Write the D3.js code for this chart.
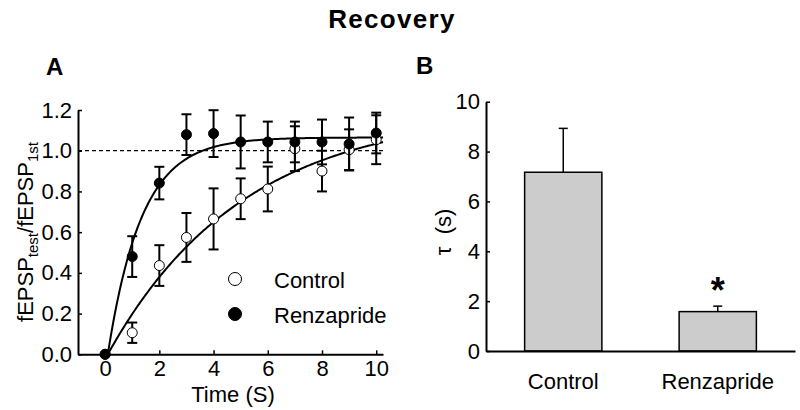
<!DOCTYPE html>
<html>
<head>
<meta charset="utf-8">
<script src="https://cdn.jsdelivr.net/npm/d3@7"></script>
<style>
  html, body { margin: 0; padding: 0; background: #fff; }
  svg { display: block; }
  text { font-family: "Liberation Sans", Arial, sans-serif; fill: #000; }
</style>
</head>
<body>
<svg id="chart" width="800" height="410"></svg>
<script>
// ---------- Data ----------
const times = [0, 1, 2, 3, 4, 5, 6, 7, 8, 9, 10];
const controlMean = [0, 0.106, 0.436, 0.574, 0.665, 0.764, 0.812, 1.01, 0.90, 1.005, 1.054];
const controlErr  = [0, 0.05, 0.10, 0.12, 0.15, 0.10, 0.11, 0.11, 0.10, 0.10, 0.12];
const renzMean    = [0, 0.48, 0.841, 1.079, 1.084, 1.043, 1.043, 1.043, 1.043, 1.033, 1.087];
const renzErr     = [0, 0.10, 0.08, 0.10, 0.115, 0.13, 0.10, 0.10, 0.11, 0.13, 0.10];
// exponential fit parameters: y = amp * (1 - exp(-(t - t0)/tau))
const fitNames = ["Control", "Renzapride"];
const fitAmp = [1.2, 1.065];
const fitTau = [5.0, 1.25];
const fitT0  = [0.1, 0.1];
const xTicksA = [0, 2, 4, 6, 8, 10];
const yTicksA = [0, 0.2, 0.4, 0.6, 0.8, 1.0, 1.2];
const refLevel = 1.0;

const barCategories = ["Control", "Renzapride"];
const tauMean = [7.17, 1.58];
const tauErr  = [1.76, 0.22];
const yTicksB = [0, 2, 4, 6, 8, 10];

// ---------- Setup ----------
const svg = d3.select("#chart");
const FS = 22;

svg.append("text").attr("x", 392).attr("y", 28).attr("text-anchor", "middle")
  .style("font-size", "26px").style("font-weight", "bold").style("letter-spacing", "1.3px")
  .text("Recovery");

// ---------- Panel A ----------
const xA = d3.scaleLinear().domain([-1, 10.25]).range([78, 383]);
const yA = d3.scaleLinear().domain([0, 1.2]).range([354.3, 110]);

svg.append("text").attr("x", 46).attr("y", 75).style("font-size", "24px").style("font-weight", "bold").text("A");

const gxA = svg.append("g").attr("transform", `translate(0,${yA(0)})`)
  .call(d3.axisBottom(xA).tickValues(xTicksA).tickSize(-4).tickSizeOuter(0).tickPadding(6).tickFormat(d3.format("d")));
const gyA = svg.append("g").attr("transform", `translate(${xA(-1)},0)`)
  .call(d3.axisLeft(yA).tickValues(yTicksA).tickSize(-4).tickSizeOuter(0).tickPadding(6).tickFormat(d3.format(".1f")));
[gxA, gyA].forEach(g => {
  g.selectAll("path.domain").attr("stroke", "#000").attr("stroke-width", 2);
  g.selectAll(".tick line").attr("stroke", "#000").attr("stroke-width", 1.5);
  g.selectAll(".tick text").style("font-size", FS + "px").attr("font-family", null);
});

// dashed reference line
svg.append("line")
  .attr("x1", xA(-1)).attr("x2", xA(10.25))
  .attr("y1", yA(refLevel)).attr("y2", yA(refLevel))
  .attr("stroke", "#000").attr("stroke-width", 1.3).attr("stroke-dasharray", "4,3");

// fit curves
const line = d3.line().x(d => xA(d[0])).y(d => yA(d[1]));
fitNames.forEach((n, i) => {
  const pts = d3.range(fitT0[i], 10.25 + 1e-9, 0.05).map(t => [t, fitAmp[i] * (1 - Math.exp(-(t - fitT0[i]) / fitTau[i]))]);
  svg.append("path").attr("d", line(pts)).attr("fill", "none").attr("stroke", "#000").attr("stroke-width", 2);
});

// error bars + points
function drawSeries(mean, err, filled) {
  const g = svg.append("g");
  times.forEach((t, i) => {
    if (err[i] > 0) {
      const x = xA(t), y1 = yA(mean[i] - err[i]), y2 = yA(mean[i] + err[i]);
      g.append("line").attr("x1", x).attr("x2", x).attr("y1", y1).attr("y2", y2).attr("stroke", "#000").attr("stroke-width", 2);
      [y1, y2].forEach(y => g.append("line").attr("x1", x - 5).attr("x2", x + 5).attr("y1", y).attr("y2", y).attr("stroke", "#000").attr("stroke-width", 2));
    }
  });
  times.forEach((t, i) => {
    g.append("circle").attr("cx", xA(t)).attr("cy", yA(mean[i])).attr("r", 5)
      .attr("fill", filled ? "#000" : "#fff").attr("stroke", "#000").attr("stroke-width", 1);
  });
}
drawSeries(controlMean, controlErr, false);
drawSeries(renzMean, renzErr, true);

// legend
svg.append("circle").attr("cx", 235).attr("cy", 279).attr("r", 6.5).attr("fill", "#fff").attr("stroke", "#000").attr("stroke-width", 1);
svg.append("circle").attr("cx", 235).attr("cy", 314).attr("r", 6.5).attr("fill", "#000").attr("stroke", "#000").attr("stroke-width", 1);
svg.append("text").attr("x", 274).attr("y", 288).style("font-size", FS + "px").text(fitNames[0]);
svg.append("text").attr("x", 274).attr("y", 322.5).style("font-size", FS + "px").text(fitNames[1]);

// axis labels
svg.append("text").attr("x", 233).attr("y", 402).attr("text-anchor", "middle").style("font-size", FS + "px").text("Time (S)");
const yl = svg.append("text").attr("transform", "translate(33,232) rotate(-90)").attr("text-anchor", "middle").style("font-size", FS + "px");
yl.append("tspan").text("fEPSP");
yl.append("tspan").attr("dy", 5).style("font-size", "15px").text("test");
yl.append("tspan").attr("dy", -5).text("/fEPSP");
yl.append("tspan").attr("dy", 5).style("font-size", "15px").text("1st");

// ---------- Panel B ----------
const xB = d3.scaleBand().domain(barCategories).range([486, 795]).paddingInner(0.5).paddingOuter(0.25);
const yB = d3.scaleLinear().domain([0, 10]).range([351, 101.7]);

svg.append("text").attr("x", 416).attr("y", 74).style("font-size", "24px").style("font-weight", "bold").text("B");

// bars
barCategories.forEach((c, i) => {
  const x = xB(c), w = xB.bandwidth();
  const cx = x + w / 2;
  svg.append("line").attr("x1", cx).attr("x2", cx).attr("y1", yB(tauMean[i])).attr("y2", yB(tauMean[i] + tauErr[i])).attr("stroke", "#000").attr("stroke-width", 1.5);
  svg.append("line").attr("x1", cx - 4.5).attr("x2", cx + 4.5).attr("y1", yB(tauMean[i] + tauErr[i])).attr("y2", yB(tauMean[i] + tauErr[i])).attr("stroke", "#000").attr("stroke-width", 1.5);
  svg.append("rect").attr("x", x).attr("y", yB(tauMean[i])).attr("width", w).attr("height", yB(0) - yB(tauMean[i]))
    .attr("fill", "#cccccc").attr("stroke", "#000").attr("stroke-width", 1.5);
});

const gxB = svg.append("g").attr("transform", `translate(0,${yB(0)})`)
  .call(d3.axisBottom(xB).tickSize(0).tickSizeOuter(0).tickPadding(22));
const gyB = svg.append("g").attr("transform", `translate(486,0)`)
  .call(d3.axisLeft(yB).tickValues(yTicksB).tickSize(-4).tickSizeOuter(0).tickPadding(6).tickFormat(d3.format("d")));
[gxB, gyB].forEach(g => {
  g.selectAll("path.domain").attr("stroke", "#000").attr("stroke-width", 2);
  g.selectAll(".tick line").attr("stroke", "#000").attr("stroke-width", 1.5);
  g.selectAll(".tick text").style("font-size", FS + "px").attr("font-family", null);
});

// significance star
svg.append("text").attr("x", xB("Renzapride") + xB.bandwidth() / 2).attr("y", 303).attr("text-anchor", "middle")
  .style("font-size", "36px").style("font-weight", "bold").text("*");

// y label B
svg.append("text").attr("transform", "translate(451,232) rotate(-90)").attr("text-anchor", "middle")
  .style("font-size", FS + "px").attr("xml:space", "preserve").style("white-space", "pre").text("τ  (s)");
</script>
</body>
</html>
